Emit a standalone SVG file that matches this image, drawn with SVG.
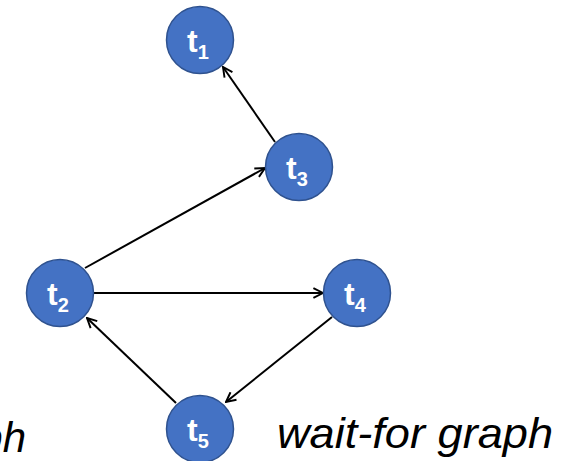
<svg xmlns="http://www.w3.org/2000/svg" width="584" height="461" viewBox="0 0 584 461">
<style>
.node circle{fill:#4472C4;stroke:#2F528F;stroke-width:1.5}
.lbl{font-family:"Liberation Sans",Arial,sans-serif;font-weight:bold;fill:#fff;font-size:32px}
.sub{font-size:20px}
.edge{stroke:#000;stroke-width:2;fill:none;marker-end:url(#arr)}
.cap{font-family:"Liberation Sans",Arial,sans-serif;font-style:italic;font-size:42px;fill:#000}
</style>
<defs>
<marker id="arr" viewBox="0 0 10 10" refX="9" refY="5" markerWidth="6" markerHeight="6" orient="auto" markerUnits="strokeWidth">
<path d="M1,1 L9,5 L1,9" fill="none" stroke="#000" stroke-width="1.6"/>
</marker>
</defs>
<rect width="584" height="461" fill="#fff"/>
<g id="connectors">
<line class="edge" x1="275" y1="142" x2="223" y2="67"/>
<line class="edge" x1="85" y1="268" x2="265" y2="168"/>
<line class="edge" x1="94" y1="293" x2="323" y2="293"/>
<line class="edge" x1="332" y1="317" x2="226" y2="402"/>
<line class="edge" x1="176" y1="403" x2="87" y2="318"/>
</g>
<g id="t1" class="node"><circle cx="200" cy="40" r="33.5"/><text class="lbl" x="187" y="52">t<tspan class="sub" dy="7">1</tspan></text></g>
<g id="t3" class="node"><circle cx="299" cy="167" r="33.5"/><text class="lbl" x="286" y="179">t<tspan class="sub" dy="7">3</tspan></text></g>
<g id="t2" class="node"><circle cx="60" cy="293" r="33.5"/><text class="lbl" x="47" y="305">t<tspan class="sub" dy="7">2</tspan></text></g>
<g id="t4" class="node"><circle cx="357" cy="293" r="33.5"/><text class="lbl" x="344" y="305">t<tspan class="sub" dy="7">4</tspan></text></g>
<g id="t5" class="node"><circle cx="200" cy="429" r="33.5"/><text class="lbl" x="187" y="441">t<tspan class="sub" dy="7">5</tspan></text></g>
<text class="cap" x="277" y="448" textLength="276" lengthAdjust="spacingAndGlyphs">wait-for graph</text>
<text class="cap" x="26" y="452" text-anchor="end">ph</text>
</svg>
